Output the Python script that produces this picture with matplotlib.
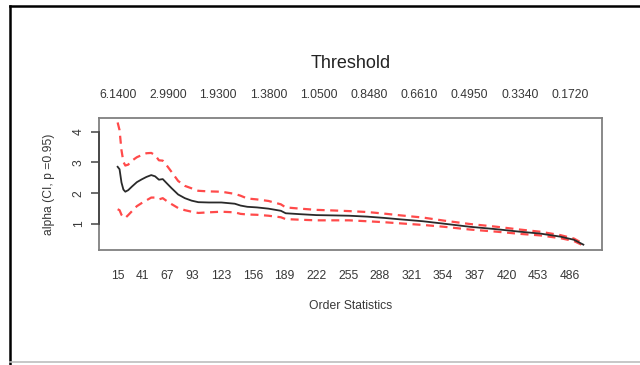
"""
Hill plot of the tail index alpha with its 95% confidence band,
against the number of order statistics (bottom) and threshold (top).
"""

import matplotlib

matplotlib.use("Agg")

import matplotlib.pyplot as plt
from matplotlib.lines import Line2D

plt.rcParams["font.family"] = ["Liberation Sans", "DejaVu Sans"]

# number of order statistics used
order_k = [15, 17, 19, 21, 23, 26, 30, 35, 40, 45, 50, 54, 58, 62, 66, 71, 78,
           85, 92, 99, 110, 123, 137, 143, 150, 160, 172, 185, 190, 205, 222,
           240, 256, 275, 292, 310, 333, 355, 382, 410, 434, 455, 476, 490, 500]

# Hill estimate of alpha
alpha_hat = [2.86, 2.78, 2.35, 2.12, 2.05, 2.10, 2.22, 2.36, 2.45, 2.53, 2.59,
             2.55, 2.44, 2.46, 2.33, 2.17, 1.96, 1.84, 1.76, 1.71, 1.70, 1.70,
             1.66, 1.60, 1.56, 1.54, 1.50, 1.43, 1.35, 1.32, 1.29, 1.28, 1.27,
             1.24, 1.20, 1.15, 1.09, 1.01, 0.91, 0.83, 0.75, 0.69, 0.59, 0.49,
             0.33]

# confidence band, p = 0.95
ci_upper = [4.30, 4.05, 3.40, 3.02, 2.90, 2.93, 3.06, 3.17, 3.24, 3.30, 3.31,
            3.24, 3.07, 3.06, 2.91, 2.70, 2.40, 2.24, 2.16, 2.08, 2.06, 2.05,
            1.98, 1.92, 1.83, 1.80, 1.75, 1.64, 1.54, 1.50, 1.46, 1.44, 1.42,
            1.39, 1.34, 1.28, 1.21, 1.11, 1.00, 0.91, 0.82, 0.75, 0.64, 0.53,
            0.36]
ci_lower = [1.48, 1.45, 1.30, 1.22, 1.20, 1.29, 1.42, 1.58, 1.68, 1.77, 1.86,
            1.86, 1.80, 1.84, 1.75, 1.65, 1.52, 1.45, 1.40, 1.36, 1.38, 1.40,
            1.38, 1.33, 1.31, 1.30, 1.27, 1.22, 1.16, 1.14, 1.12, 1.12, 1.12,
            1.09, 1.06, 1.02, 0.97, 0.91, 0.82, 0.75, 0.68, 0.63, 0.54, 0.45,
            0.30]

bottom_ticks = [15, 41, 67, 93, 123, 156, 189, 222, 255, 288, 321, 354, 387,
                420, 453, 486]
top_ticks = [15.0, 67.3, 119.7, 172.0, 224.3, 276.7, 329.0, 381.3, 433.7, 486.0]
top_labels = ["6.1400", "2.9900", "1.9300", "1.3800", "1.0500", "0.8480",
              "0.6610", "0.4950", "0.3340", "0.1720"]

TEXT = "#383838"
W, H = 640, 365


def plot_hill():
    fig = plt.figure(figsize=(6.4, 3.65), dpi=100)
    ax = fig.add_axes([99 / W, 1 - 250 / H, (602 - 99) / W, (250 - 117.7) / H])

    ax.plot(order_k, alpha_hat, color="#2a2a2a", lw=1.3, zorder=3)
    for band in (ci_upper, ci_lower):
        ax.plot(order_k, band, color="#ff4a4a", lw=1.6,
                linestyle=(0, (3.6, 2.5)), zorder=2)

    ax.set_xlim(15 - 19.4, 500 + 19.4)
    ax.set_ylim(0.156, 4.455)

    for sp in ax.spines.values():
        sp.set_color("#808080")
        sp.set_linewidth(1.3)

    # bottom: order statistics, no tick marks (R style tick=FALSE)
    ax.set_xticks(bottom_ticks)
    ax.set_xticklabels([str(v) for v in bottom_ticks])
    ax.tick_params(axis="x", length=0, pad=14.5, labelsize=8.7, labelcolor=TEXT)

    # left: alpha axis with a darker axis line from 1 to 4
    ax.set_yticks([1, 2, 3, 4])
    ax.tick_params(axis="y", length=5.8, width=1.1, color="#444444", pad=4.5,
                   labelsize=8.7, labelcolor=TEXT, labelrotation=90)
    for lab in ax.get_yticklabels():
        lab.set_va("center")
    ax.plot([0, 0], [1, 4], transform=ax.get_yaxis_transform(),
            color="#444444", lw=1.3, clip_on=False, zorder=4)

    # top: thresholds
    top = ax.twiny()
    top.set_xlim(ax.get_xlim())
    top.set_xticks(top_ticks)
    top.set_xticklabels(top_labels)
    top.tick_params(axis="x", length=0, pad=12, labelsize=8.7, labelcolor=TEXT)
    for sp in top.spines.values():
        sp.set_visible(False)

    fig.text(350.5 / W, 1 - 63 / H, "Threshold", ha="center", va="center",
             fontsize=13, color="#222222")
    fig.text(350.5 / W, 1 - 306 / H, "Order Statistics", ha="center",
             va="center", fontsize=8.7, color=TEXT)
    fig.text(49 / W, 1 - 184 / H, "alpha (CI, p =0.95)", ha="center",
             va="center", rotation=90, fontsize=8.7, color=TEXT)

    # frame around the screenshot
    fig.add_artist(Line2D([10 / W, 1], [1 - 5.5 / H, 1 - 5.5 / H],
                          color="black", lw=1.8))
    fig.add_artist(Line2D([10 / W, 10 / W], [0, 1 - 5.5 / H],
                          color="black", lw=1.8))
    fig.add_artist(Line2D([10 / W, 1], [1 - 362 / H, 1 - 362 / H],
                          color="#bdbdbd", lw=1.2))

    fig.savefig("out.png", dpi=100)


if __name__ == "__main__":
    plot_hill()
